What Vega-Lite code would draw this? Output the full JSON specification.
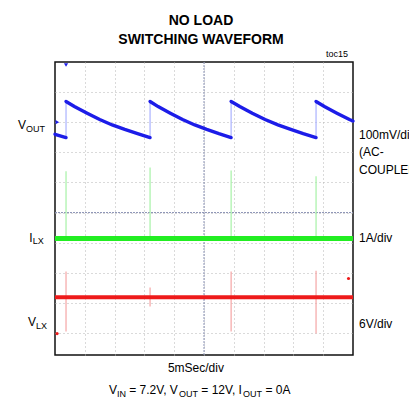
{
  "$schema": "https://vega.github.io/schema/vega-lite/v6.json",
  "width": 298,
  "height": 293,
  "autosize": {"type": "none"},
  "padding": {"left": 55, "top": 62, "right": 56, "bottom": 50},
  "background": "white",
  "title": {
    "text": ["NO LOAD", "SWITCHING WAVEFORM"],
    "font": "Liberation Sans",
    "fontSize": 14,
    "fontWeight": "bold",
    "color": "#000",
    "anchor": "middle",
    "lineHeight": 19,
    "offset": 3,
    "dx": -3
  },
  "config": {
    "view": {"stroke": "#111", "strokeWidth": 1.5},
    "text": {"font": "Liberation Sans", "color": "#000"}
  },
  "datasets": {
    "trace": [
      {"seg": 0, "x": 0, "y": 2.6}, {"seg": 0, "x": 0.37, "y": 2.49},
      {"seg": 1, "x": 0.37, "y": 3.69}, {"seg": 1, "x": 0.65, "y": 3.52}, {"seg": 1, "x": 1.08, "y": 3.3}, {"seg": 1, "x": 1.5, "y": 3.09}, {"seg": 1, "x": 1.92, "y": 2.91}, {"seg": 1, "x": 2.34, "y": 2.76}, {"seg": 1, "x": 2.77, "y": 2.62}, {"seg": 1, "x": 3.19, "y": 2.49},
      {"seg": 2, "x": 3.19, "y": 3.69}, {"seg": 2, "x": 3.46, "y": 3.52}, {"seg": 2, "x": 3.87, "y": 3.3}, {"seg": 2, "x": 4.28, "y": 3.09}, {"seg": 2, "x": 4.69, "y": 2.91}, {"seg": 2, "x": 5.09, "y": 2.76}, {"seg": 2, "x": 5.5, "y": 2.62}, {"seg": 2, "x": 5.91, "y": 2.49},
      {"seg": 3, "x": 5.91, "y": 3.69}, {"seg": 3, "x": 6.2, "y": 3.52}, {"seg": 3, "x": 6.62, "y": 3.3}, {"seg": 3, "x": 7.05, "y": 3.09}, {"seg": 3, "x": 7.48, "y": 2.91}, {"seg": 3, "x": 7.91, "y": 2.76}, {"seg": 3, "x": 8.33, "y": 2.62}, {"seg": 3, "x": 8.76, "y": 2.49},
      {"seg": 4, "x": 8.76, "y": 3.69}, {"seg": 4, "x": 9.04, "y": 3.52}, {"seg": 4, "x": 9.46, "y": 3.3}, {"seg": 4, "x": 9.88, "y": 3.09}, {"seg": 4, "x": 10, "y": 3.04}
    ],
    "spikes": [
      {"ch": "VOUT", "x": 0.37, "y": 2.49, "y2": 3.69},
      {"ch": "VOUT", "x": 3.19, "y": 2.49, "y2": 3.69},
      {"ch": "VOUT", "x": 5.91, "y": 2.49, "y2": 3.69},
      {"ch": "VOUT", "x": 8.76, "y": 2.49, "y2": 3.69},
      {"ch": "ILX", "x": 0.37, "y": -0.86, "y2": 1.37},
      {"ch": "ILX", "x": 3.19, "y": -0.86, "y2": 1.5},
      {"ch": "ILX", "x": 5.91, "y": -0.86, "y2": 1.4},
      {"ch": "ILX", "x": 8.76, "y": -0.86, "y2": 1.21},
      {"ch": "VLX", "x": 0.37, "y": -3.95, "y2": -1.96},
      {"ch": "VLX", "x": 3.19, "y": -3.12, "y2": -2.49},
      {"ch": "VLX", "x": 5.91, "y": -3.95, "y2": -1.96},
      {"ch": "VLX", "x": 8.76, "y": -4.02, "y2": -1.93}
    ],
    "bands": [
      {"ch": "ILX", "x": 0, "y": -0.86}, {"ch": "ILX", "x": 10, "y": -0.86},
      {"ch": "VLX", "x": 0, "y": -2.81}, {"ch": "VLX", "x": 10, "y": -2.81}
    ],
    "center": [
      {"x": 5, "x2": 5, "y": -4.73, "y2": 5},
      {"x": 0, "x2": 10, "y": 0, "y2": 0}
    ],
    "markers": [
      {"ch": "VOUT", "shape": "triangle-right", "x": 0.08, "y": 3.0},
      {"ch": "VOUT", "shape": "triangle-down", "x": 0.37, "y": 4.9},
      {"ch": "VLX", "shape": "circle", "x": 0.07, "y": -4.02},
      {"ch": "VLX", "shape": "circle", "x": 9.85, "y": -2.19}
    ],
    "labels": [
      {"text": "V", "x": -1.24, "y": 2.92},
      {"text": "I", "x": -0.86, "y": -0.86},
      {"text": "V", "x": -0.91, "y": -3.65},
      {"text": "100mV/div", "x": 10.2, "y": 2.59},
      {"text": "(AC-", "x": 10.2, "y": 2.0},
      {"text": "COUPLED)", "x": 10.2, "y": 1.43},
      {"text": "1A/div", "x": 10.2, "y": -0.83},
      {"text": "6V/div", "x": 10.2, "y": -3.69},
      {"text": "V", "x": 1.81, "y": -5.88},
      {"text": "= 7.2V, V", "x": 2.49, "y": -5.88},
      {"text": "= 12V, I", "x": 4.91, "y": -5.88},
      {"text": "= 0A", "x": 7.06, "y": -5.88}
    ],
    "subs": [
      {"text": "OUT", "x": -0.97, "y": 2.79},
      {"text": "LX", "x": -0.75, "y": -0.96},
      {"text": "LX", "x": -0.64, "y": -3.76},
      {"text": "IN", "x": 2.08, "y": -6.01},
      {"text": "OUT", "x": 4.16, "y": -6.01},
      {"text": "OUT", "x": 6.31, "y": -6.01}
    ],
    "centered": [
      {"text": "5mSec/div", "x": 4.73, "y": -5.15}
    ],
    "toc": [
      {"text": "toc15", "x": 9.83, "y": 5.28}
    ]
  },
  "encoding": {
    "x": {
      "field": "x", "type": "quantitative",
      "scale": {"domain": [0, 10], "nice": false, "zero": false},
      "axis": {"values": [1, 2, 3, 4, 5, 6, 7, 8, 9], "grid": true, "gridColor": "#b4b4b4", "gridDash": [1, 3], "gridWidth": 1, "labels": false, "ticks": false, "domain": false, "title": null}
    },
    "y": {
      "field": "y", "type": "quantitative",
      "scale": {"domain": [-4.73, 5], "nice": false, "zero": false},
      "axis": {"values": [-4, -3, -2, -1, 0, 1, 2, 3, 4], "grid": true, "gridColor": "#b4b4b4", "gridDash": [1, 3], "gridWidth": 1, "labels": false, "ticks": false, "domain": false, "title": null}
    }
  },
  "layer": [
    {
      "data": {"name": "center"},
      "mark": {"type": "rule", "color": "#8a92b4", "strokeWidth": 1, "strokeDash": [2, 1]},
      "encoding": {"x2": {"field": "x2"}, "y2": {"field": "y2"}}
    },
    {
      "data": {"name": "spikes"},
      "transform": [{"filter": "datum.ch === 'ILX'"}],
      "mark": {"type": "rule", "color": "#a6f2a6", "strokeWidth": 1.2},
      "encoding": {"y2": {"field": "y2"}}
    },
    {
      "data": {"name": "spikes"},
      "transform": [{"filter": "datum.ch === 'VLX'"}],
      "mark": {"type": "rule", "color": "#f5a5a5", "strokeWidth": 1.2},
      "encoding": {"y2": {"field": "y2"}}
    },
    {
      "data": {"name": "spikes"},
      "transform": [{"filter": "datum.ch === 'VOUT'"}],
      "mark": {"type": "rule", "color": "#aab2ff", "strokeWidth": 1.2},
      "encoding": {"y2": {"field": "y2"}}
    },
    {
      "data": {"name": "bands"},
      "transform": [{"filter": "datum.ch === 'ILX'"}],
      "mark": {"type": "line", "color": "#22ee22", "strokeWidth": 5},
      "encoding": {}
    },
    {
      "data": {"name": "bands"},
      "transform": [{"filter": "datum.ch === 'VLX'"}],
      "mark": {"type": "line", "color": "#ee1a1a", "strokeWidth": 4},
      "encoding": {}
    },
    {
      "data": {"name": "trace"},
      "mark": {"type": "line", "color": "#1c1ce8", "strokeWidth": 3.4, "strokeCap": "round"},
      "encoding": {"detail": {"field": "seg", "type": "nominal"}}
    },
    {
      "data": {"name": "markers"},
      "transform": [{"filter": "datum.ch === 'VOUT'"}],
      "mark": {"type": "point", "filled": true, "color": "#1c1ce8", "size": 18, "opacity": 1},
      "encoding": {"shape": {"field": "shape", "type": "nominal", "scale": null}}
    },
    {
      "data": {"name": "markers"},
      "transform": [{"filter": "datum.ch === 'VLX'"}],
      "mark": {"type": "point", "filled": true, "color": "#ee1a1a", "size": 10, "opacity": 1},
      "encoding": {"shape": {"field": "shape", "type": "nominal", "scale": null}}
    },
    {
      "data": {"name": "labels"},
      "mark": {"type": "text", "align": "left", "baseline": "middle", "fontSize": 12, "clip": false},
      "encoding": {"text": {"field": "text"}}
    },
    {
      "data": {"name": "subs"},
      "mark": {"type": "text", "align": "left", "baseline": "middle", "fontSize": 9, "clip": false},
      "encoding": {"text": {"field": "text"}}
    },
    {
      "data": {"name": "centered"},
      "mark": {"type": "text", "align": "center", "baseline": "middle", "fontSize": 12, "clip": false},
      "encoding": {"text": {"field": "text"}}
    },
    {
      "data": {"name": "toc"},
      "mark": {"type": "text", "align": "right", "baseline": "middle", "fontSize": 9, "clip": false},
      "encoding": {"text": {"field": "text"}}
    }
  ]
}
